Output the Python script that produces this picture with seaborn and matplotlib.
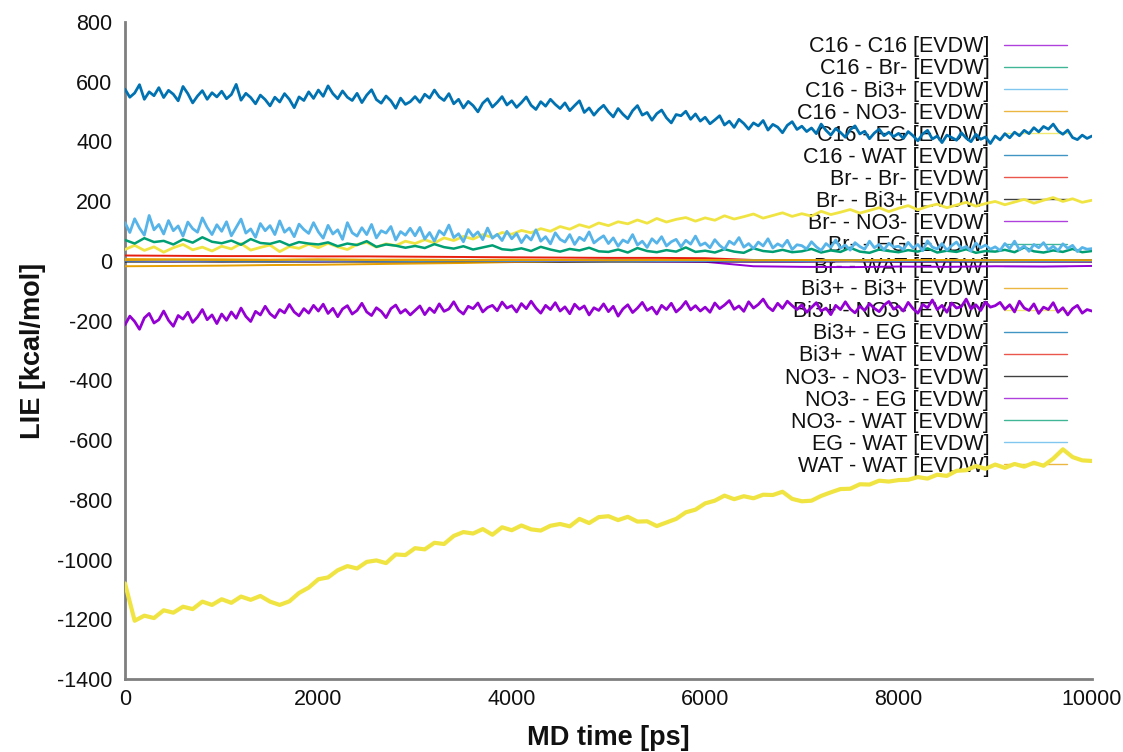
import matplotlib
matplotlib.use("Agg")
import matplotlib.pyplot as plt
from matplotlib.lines import Line2D
import seaborn as sns

# ---------------- data ----------------
time_50 = list(range(0, 10001, 50))
time_100 = list(range(0, 10001, 100))
time_500 = list(range(0, 10001, 500))

pair_labels = [
    "C16 - C16 [EVDW]", "C16 - Br- [EVDW]", "C16 - Bi3+ [EVDW]", "C16 - NO3- [EVDW]",
    "C16 - EG [EVDW]", "C16 - WAT [EVDW]", "Br- - Br- [EVDW]", "Br- - Bi3+ [EVDW]",
    "Br- - NO3- [EVDW]", "Br- - EG [EVDW]", "Br- - WAT [EVDW]", "Bi3+ - Bi3+ [EVDW]",
    "Bi3+ - NO3- [EVDW]", "Bi3+ - EG [EVDW]", "Bi3+ - WAT [EVDW]", "NO3- - NO3- [EVDW]",
    "NO3- - EG [EVDW]", "NO3- - WAT [EVDW]", "EG - WAT [EVDW]", "WAT - WAT [EVDW]",
]

c16_c16 = [
    -214, -185, -203, -229, -191, -176, -208, -197, -168, -199, -219, -183, -195, -172, -206, -188, -163, -197, -181, -210,
    -178, -199, -171, -192, -158, -186, -203, -169, -181, -152, -177, -190, -163, -174, -146, -171, -184, -160, -175, -149,
    -168, -145, -176, -159, -187, -161, -150, -178, -166, -142, -171, -183, -157, -169, -190, -160, -148, -175, -163, -181,
    -166, -151, -180, -158, -173, -144, -169, -161, -137, -165, -178, -152, -160, -141, -171, -156, -149, -167, -138, -158,
    -150, -171, -143, -160, -135, -158, -175, -149, -163, -140, -168, -154, -177, -145, -162, -151, -181, -157, -166, -144,
    -170, -152, -185, -161, -147, -173, -158, -139, -166, -155, -178, -149, -163, -142, -171, -157, -136, -164, -150, -168,
    -155, -172, -141, -160, -148, -133, -162, -151, -169, -137, -158, -146, -128, -154, -167, -142, -159, -135, -150, -163,
    -147, -172, -156, -140, -168, -158, -180, -149, -163, -137, -161, -174, -152, -166, -143, -159, -170, -148, -136, -162,
    -151, -168, -139, -160, -175, -146, -157, -131, -163, -149, -172, -141, -158, -153, -128, -161, -147, -166, -138, -155,
    -150, -139, -162, -147, -171, -135, -158, -166, -144, -176, -155, -163, -140, -172, -157, -181, -160, -149, -175, -163,
    -168,
]

c16_wat = [
    575, 548, 562, 590, 541, 566, 553, 580, 547, 571, 558, 536, 584, 560, 529, 552, 570, 541, 563, 549,
    568, 543, 557, 591, 538, 561, 547, 526, 555, 540, 519, 548, 532, 560, 541, 513, 549, 537, 566, 544,
    572, 551, 586, 560, 543, 569, 548, 537, 561, 530, 555, 573, 540, 528, 552, 536, 511, 545, 524, 533,
    550, 531, 558, 545, 572, 549, 537, 560, 526, 541, 512, 534, 520, 499, 528, 543, 515, 531, 550, 522,
    536, 514, 530, 549, 521, 507, 533, 518, 541, 524, 510, 529, 503, 520, 536, 497, 512, 488, 507, 521,
    499, 482, 510, 491, 476, 503, 520, 488, 497, 471, 493, 505, 479, 462, 490, 486, 501, 474, 492, 468,
    481, 459, 472, 486, 455, 468, 447, 474, 460, 441, 462, 452, 470, 438, 457, 448, 429, 454, 466, 440,
    451, 433, 445, 426, 458, 437, 421, 443, 430, 414, 439, 452, 425, 434, 409, 428, 441, 419, 431, 416,
    427, 410, 433, 419, 402, 425, 437, 408, 418, 396, 421, 413, 404, 429, 411, 399, 424, 407, 415, 393,
    418, 405, 426, 412, 431, 419, 437, 426, 446, 432, 450, 441, 458, 435, 424, 438, 413, 406, 421, 410,
    418,
]

br_wat = [
    128, 95, 141, 110, 86, 152, 104, 122, 90, 135, 101, 117, 83, 130, 108, 96, 144, 112, 88, 121,
    99, 131, 84, 112, 140, 93, 107, 79, 125, 101, 118, 88, 134, 96, 110, 81, 123, 105, 92, 128,
    97, 76, 119, 90, 104, 72, 128, 94, 83, 111, 88, 122, 77, 101, 93, 115, 70, 98, 86, 109,
    84, 112, 73, 95, 66, 101, 87, 120, 78, 91, 64, 105, 82, 97, 71, 110, 76, 89, 68, 99,
    74, 92, 61, 85, 70, 104, 66, 81, 57, 94, 72, 63, 88, 55, 79, 68, 97, 60, 73, 84,
    58, 77, 49, 70, 61, 88, 53, 66, 45, 74, 59, 81, 50, 64, 72, 47, 69, 56, 83, 52,
    60, 44, 71, 52, 39, 66, 55, 78, 46, 58, 41, 63, 50, 74, 43, 57, 48, 69, 38, 54,
    51, 40, 64, 47, 35, 58, 45, 70, 42, 53, 36, 61, 48, 39, 66, 44, 55, 37, 59, 46,
    49, 38, 62, 43, 55, 34, 67, 46, 40, 58, 36, 51, 63, 41, 48, 33, 60, 44, 53, 39,
    47, 35, 58, 41, 66, 38, 50, 32, 55, 44, 61, 37, 49, 34, 57, 42, 52, 31, 45, 39,
    41,
]

c16_eg = [
    38, 52, 35, 47, 29, 44, 55, 37, 46, 33,
    49, 40, 58, 36, 45, 53, 31, 48, 42, 56,
    44, 59, 47, 38, 55, 62, 46, 57, 51, 66,
    58, 71, 60, 77, 68, 82, 73, 88, 79, 95,
    89, 102, 94, 108, 99, 115, 106, 121, 112, 127,
    118, 131, 124, 137, 126, 142, 130, 139, 145, 133,
    144, 136, 151, 140, 148, 157, 143, 152, 161, 149,
    158, 150, 166, 155, 163, 172, 160, 169, 178, 165,
    176, 185, 171, 182, 190, 178, 187, 196, 183, 192,
    199, 188, 197, 206, 193, 203, 212, 199, 208, 196,
    203,
]

br_eg = [
    70, 58, 76, 63, 67, 55, 72, 61, 79, 64,
    59, 68, 54, 73, 60, 57, 66, 52, 63, 58,
    55, 62, 49, 58, 53, 66, 47, 55, 51, 44,
    50, 43, 56, 46, 41, 49, 38, 45, 52, 39,
    36, 42, 33, 47, 38, 31, 40, 35, 44, 32,
    30, 38, 28, 43, 33, 29, 36, 31, 45, 30,
    34, 28, 39, 31, 27, 42, 33, 30, 37, 29,
    32, 40, 28, 35, 30, 44, 31, 27, 38, 33,
    29, 36, 31, 42, 28, 34, 30, 39, 27, 33,
    31, 37, 29, 45, 32, 28, 35, 30, 40, 29,
    33,
]

bi_no3 = [
    -1080, -1205, -1188, -1196, -1170, -1178, -1158, -1166, -1141, -1152,
    -1133, -1145, -1124, -1135, -1122, -1141, -1152, -1140, -1112, -1094,
    -1066, -1060, -1036, -1022, -1030, -1008, -1003, -1012, -983, -985,
    -962, -966, -944, -948, -921, -908, -913, -898, -917, -892,
    -902, -886, -899, -903, -887, -881, -889, -864, -878, -858,
    -855, -868, -857, -873, -872, -888, -876, -864, -842, -833,
    -812, -803, -786, -798, -788, -795, -783, -784, -773, -797,
    -805, -803, -787, -775, -764, -763, -748, -749, -736, -739,
    -734, -733, -724, -729, -716, -720, -703, -701, -687, -696,
    -682, -693, -680, -689, -676, -686, -662, -631, -657, -668,
    -670,
]

c16_br = [2, 1, 2, 1, 1, 2, 1, 1, 2, 1, 1, 1, 2, 1, 1, 1, 2, 1, 1, 1, 1]
c16_bi = [1, 2, 1, 1, 2, 1, 1, 1, 2, 1, 1, 2, 1, 1, 1, 2, 1, 1, 1, 1, 1]
c16_no3 = [6, 5, 5, 4, 5, 4, 4, 3, 4, 3, 3, 3, 3, 2, 3, 2, 2, 3, 2, 2, 2]
br_br = [18, 17, 16, 16, 15, 15, 14, 13, 12, 11, 10, 10, 9, 3, 3, 2, 3, 2, 3, 2, 3]
br_bi = [-2, -2, -1, -2, -2, -1, -2, -2, -1, -2, -2, -2, -1, -2, -2, -1, -2, -2, -2, -1, -2]
br_no3 = [0, 0, -1, 0, -1, 0, 0, -1, 0, -1, 0, -1, -3, -18, -20, -21, -19, -20, -18, -19, -17]
bi_bi = [-18, -17, -16, -14, -13, -11, -9, -7, -4, -2, 0, 1, 2, 2, 3, 2, 3, 2, 3, 3, 2]
bi_eg = [1, 0, 1, 1, 0, 1, 0, 1, 1, 0, 1, 0, 1, 1, 0, 1, 0, 1, 1, 0, 1]
bi_wat = [3, 3, 2, 3, 2, 2, 3, 2, 2, 2, 3, 2, 2, 1, 2, 1, 2, 1, 2, 1, 2]
no3_no3 = [-1, -1, -2, -1, -1, -2, -1, -1, -1, -2, -1, -1, -2, -1, -1, -1, -2, -1, -1, -2, -1]
no3_eg = [0, -1, 0, 0, -1, 0, 0, 0, -1, 0, 0, -1, -1, -2, -2, -1, -2, -2, -1, -2, -2]
no3_wat = [1, 2, 1, 1, 2, 1, 1, 1, 1, 2, 1, 1, 1, 1, 1, 2, 1, 1, 1, 1, 1]
eg_wat = [2, 1, 2, 2, 1, 2, 1, 2, 1, 1, 2, 1, 1, 2, 1, 1, 1, 2, 1, 1, 1]
wat_wat = [3, 4, 3, 3, 4, 3, 3, 2, 3, 3, 2, 3, 3, 2, 3, 2, 3, 3, 2, 3, 2]

series_values = [
    c16_c16, c16_br, c16_bi, c16_no3, c16_eg, c16_wat, br_br, br_bi,
    br_no3, br_eg, br_wat, bi_bi, bi_no3, bi_eg, bi_wat, no3_no3,
    no3_eg, no3_wat, eg_wat, wat_wat,
]
series_times = [
    time_50, time_500, time_500, time_500, time_100, time_50, time_500, time_500,
    time_500, time_100, time_50, time_500, time_100, time_500, time_500, time_500,
    time_500, time_500, time_500, time_500,
]

base_colors = ["#9400d3", "#009e73", "#56b4e9", "#e69f00",
               "#f0e442", "#0072b2", "#e51e10", "#000000"]
x_ticks = [0, 2000, 4000, 6000, 8000, 10000]
y_ticks = list(range(-1400, 801, 200))

# ---------------- style ----------------
sns.set_theme(style="white")
plt.rcParams["font.family"] = ["Liberation Sans", "DejaVu Sans"]
plt.rcParams["axes.unicode_minus"] = False

# line widths for the dense, noisy traces vs. the quiet ones
noisy_width = {0: 2.0, 4: 2.0, 5: 2.0, 9: 1.8, 10: 2.0, 12: 3.0}

fig = plt.figure(figsize=(11.23, 7.52), dpi=100)
ax = fig.add_axes([0.1113, 0.0971, 0.861, 0.8737])

handles = []
for i, (lab, t, v) in enumerate(zip(pair_labels, series_times, series_values)):
    col = base_colors[i % len(base_colors)]
    sns.lineplot(x=t, y=v, ax=ax, color=col, linewidth=noisy_width.get(i, 1.4),
                 estimator=None, sort=False, legend=False, zorder=3 + i * 0.01)
    handles.append(Line2D([], [], color=col, linewidth=1.0, alpha=0.75, label=lab))

ax.set_xlim(0, 10000)
ax.set_ylim(-1400, 800)
ax.set_xticks(x_ticks)
ax.set_yticks(y_ticks)

for side in ["top", "right"]:
    ax.spines[side].set_visible(False)
for side in ["left", "bottom"]:
    ax.spines[side].set_color("#7f7f7f")
    ax.spines[side].set_linewidth(2)

ax.tick_params(axis="both", direction="in", length=7, width=1, color="black",
               labelsize=15.5, labelcolor="#111111")
ax.tick_params(axis="y", pad=9)
ax.tick_params(axis="x", pad=7)

ax.set_xlabel("MD time [ps]", fontsize=19.5, fontweight="bold", labelpad=11, color="#111111")
ax.set_ylabel("LIE [kcal/mol]", fontsize=19.5, fontweight="bold", labelpad=8, color="#111111")

leg = ax.legend(handles=handles, loc="upper right", bbox_to_anchor=(0.974, 0.978),
                frameon=False, markerfirst=False, fontsize=15.5,
                handlelength=2.9, handletextpad=0.7, labelspacing=0.05,
                borderpad=0, borderaxespad=0)
for txt in leg.get_texts():
    txt.set_color("#111111")
leg.set_zorder(1)

fig.savefig("out.png", dpi=100)
